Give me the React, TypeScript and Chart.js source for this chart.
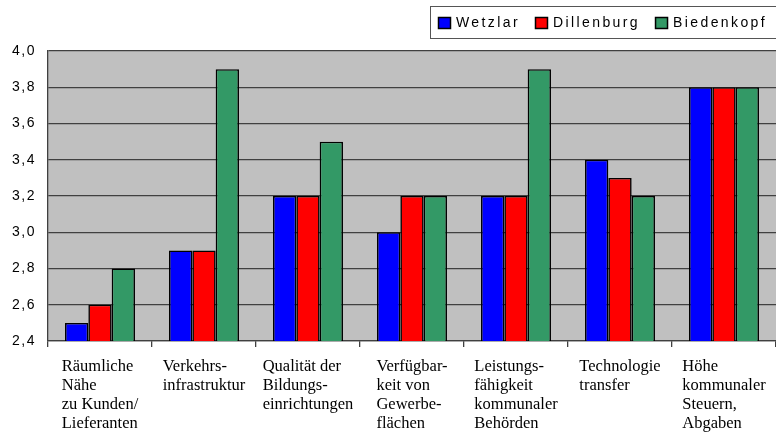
import React, { useEffect, useRef } from "react";
import { Chart, registerables } from "chart.js";

Chart.register(...registerables);

const categories: string[][] = [
  ["Räumliche", "Nähe", "zu Kunden/", "Lieferanten"],
  ["Verkehrs-", "infrastruktur"],
  ["Qualität der", "Bildungs-", "einrichtungen"],
  ["Verfügbar-", "keit von", "Gewerbe-", "flächen"],
  ["Leistungs-", "fähigkeit", "kommunaler", "Behörden"],
  ["Technologie", "transfer"],
  ["Höhe", "kommunaler", "Steuern,", "Abgaben"],
];

const seriesNames = ["Wetzlar", "Dillenburg", "Biedenkopf"];
const wetzlar = [2.5, 2.9, 3.2, 3.0, 3.2, 3.4, 3.8];
const dillenburg = [2.6, 2.9, 3.2, 3.2, 3.2, 3.3, 3.8];
const biedenkopf = [2.8, 3.9, 3.5, 3.2, 3.9, 3.2, 3.8];
const seriesColors = ["#0000FF", "#FF0000", "#339966"];

const yMin = 2.4;
const yMax = 4.0;
const yStep = 0.2;

const LINE = "#404040";

const customPlugin = {
  id: "customDraw",
  beforeDraw(chart: any) {
    const { ctx, chartArea } = chart;
    ctx.save();
    ctx.fillStyle = "#C0C0C0";
    ctx.fillRect(chartArea.left, chartArea.top, chartArea.right - chartArea.left, chartArea.bottom - chartArea.top);
    ctx.restore();
    (ctx as any).letterSpacing = "1.5px";
  },
  afterDraw(chart: any) {
    const { ctx } = chart;
    (ctx as any).letterSpacing = "0px";
    // x category labels
    const xScale = chart.scales.x;
    ctx.save();
    ctx.font = "16.5px 'Liberation Serif', 'Times New Roman', serif";
    ctx.fillStyle = "#000";
    ctx.textAlign = "left";
    ctx.textBaseline = "middle";
    categories.forEach((lines, i) => {
      const cx = xScale.getPixelForValue(i);
      const maxW = Math.max(...lines.map((l) => ctx.measureText(l).width));
      const left = cx - maxW / 2;
      lines.forEach((l, j) => {
        ctx.fillText(l, left, 367 + j * 19);
      });
    });
    ctx.restore();

    // legend
    ctx.save();
    ctx.strokeStyle = "#555";
    ctx.lineWidth = 1;
    ctx.strokeRect(430.5, 6.5, 400, 32);
    ctx.font = "14px 'Liberation Sans', Arial, sans-serif";
    (ctx as any).letterSpacing = "2.4px";
    ctx.textBaseline = "middle";
    ctx.textAlign = "left";
    let x = 438;
    chart.data.datasets.forEach((ds: any) => {
      ctx.fillStyle = ds.backgroundColor;
      ctx.fillRect(x + 0.5, 17.5, 12, 11);
      ctx.strokeStyle = "#000";
      ctx.lineWidth = 1.5;
      ctx.strokeRect(x + 0.5, 17.5, 12, 11);
      ctx.fillStyle = "#000";
      ctx.fillText(ds.label, x + 18, 23);
      x += 18 + ctx.measureText(ds.label).width + 15;
    });
    (ctx as any).letterSpacing = "0px";
    ctx.restore();
  },
};

export default function App() {
  const canvasRef = useRef<HTMLCanvasElement | null>(null);

  useEffect(() => {
    document.body.style.margin = "0";
    const canvas = canvasRef.current;
    if (!canvas) return;
    const chart = new Chart(canvas, {
      type: "bar",
      data: {
        labels: categories.map((c) => c.join(" ")),
        datasets: [wetzlar, dillenburg, biedenkopf].map((d, i) => ({
          label: seriesNames[i],
          data: d,
          backgroundColor: seriesColors[i],
          borderColor: "#000",
          borderWidth: 1.6,
          categoryPercentage: 0.673,
          barPercentage: 1.0,
        })),
      },
      options: {
        animation: false,
        responsive: false,
        devicePixelRatio: 1,
        layout: { padding: { top: 51, left: 0, right: 0, bottom: 0 } },
        plugins: {
          legend: { display: false },
          tooltip: { enabled: false },
          title: { display: false },
        },
        scales: {
          x: {
            offset: true,
            grid: {
              offset: true,
              drawOnChartArea: false,
              drawTicks: true,
              tickLength: 6,
              color: LINE,
              lineWidth: 1.3,
            },
            border: { display: true, color: LINE, width: 1.3 },
            ticks: { display: false },
            afterFit: (s: any) => {
              s.height = 93;
            },
          },
          y: {
            min: yMin,
            max: yMax,
            grid: { color: LINE, drawTicks: false, lineWidth: 1.3 },
            border: { display: true, color: LINE, width: 1.3 },
            ticks: {
              stepSize: yStep,
              padding: 12,
              color: "#000",
              font: { family: "'Liberation Sans', Arial, sans-serif", size: 14 },
              callback: (v: any) => Number(v).toFixed(1).replace(".", ","),
            },
            afterFit: (s: any) => {
              s.width = 48;
            },
          },
        },
      },
      plugins: [customPlugin],
    });
    return () => chart.destroy();
  }, []);

  return (
    <div style={{ width: 776, height: 434, position: "relative", background: "#fff" }}>
      <canvas ref={canvasRef} width={776} height={434} style={{ display: "block", width: 776, height: 434 }} />
    </div>
  );
}
